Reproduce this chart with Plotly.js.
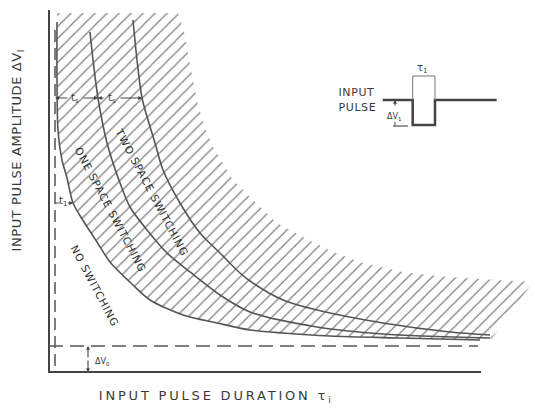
<!DOCTYPE html>
<html><head><meta charset="utf-8">
<script src="https://cdn.plot.ly/plotly-3.0.1.min.js"></script>
<style>html,body{margin:0;padding:0;background:#fff}#chart{width:535px;height:415px}</style>
</head><body><div id="chart"></div>
<script>
// ---- data (tau = pulse duration, amp = pulse amplitude; arbitrary units) ----
const curve1Tau = [0.185,0.185,0.208,0.301,0.417,0.556,0.810,1.111,1.412,1.944,2.338,3.102,3.889,4.653,5.417,6.505,8.125,9.977];
const curve1Amp = [9.722,8.111,6.722,5.889,5.389,4.694,4.167,3.611,3.056,2.417,2.000,1.583,1.361,1.167,1.083,1.000,0.944,0.889];
const curve2Tau = [0.949,1.019,1.134,1.343,1.644,1.875,2.269,2.731,3.264,3.958,4.653,6.204,7.731,10.208];
const curve2Amp = [9.444,8.667,7.611,6.361,5.250,4.583,3.944,3.306,2.778,2.139,1.667,1.250,1.056,0.944];
const curve3Tau = [1.944,2.037,2.153,2.292,2.454,2.639,3.032,3.495,3.958,4.421,4.653,5.417,6.204,7.731,9.282,10.208];
const curve3Amp = [9.778,8.667,7.611,7.000,6.361,5.611,4.694,3.861,3.306,2.750,2.528,2.000,1.722,1.361,1.111,1.028];
const hatchEdgeTau = [0.185,2.986,3.148,3.264,3.449,3.611,3.796,4.028,4.259,4.722,5.278,5.880,6.574,7.269,8.194,9.213,10.278,11.204,10.25];
const hatchEdgeAmp = [9.972,9.972,9.361,8.528,7.417,6.778,6.250,5.806,5.333,4.778,4.139,3.750,3.333,3.028,2.778,2.639,2.556,2.500,0.93];
const axisTau = [0, 0, 10.0];
const axisAmp = [10.056, 0, 0];
const thresholdTau = 0.139;   // vertical asymptote
const thresholdAmp = 0.722;   // horizontal asymptote (ΔV0)
const tauMax = 9.93, ampTop = 9.5;
const tsLevel = 7.611, t1Level = 4.694;
const pulseTau = [7.725,8.419,8.419,8.935,8.935,10.363];
const pulseAmp = [7.556,7.556,6.861,6.861,7.556,7.556];
const bracketTau = [8.419,8.419,8.935,8.935];
const bracketAmp = [7.556,8.222,8.222,7.556];
const regionLabels = ["NO SWITCHING","ONE SPACE SWITCHING","TWO SPACE SWITCHING"];
const regionTau = [1.065,1.435,2.384];
const regionAmp = [2.389,4.500,5.000];

// ---- build ----
const hatchPolyX = hatchEdgeTau.concat(curve1Tau.slice().reverse());
const hatchPolyY = hatchEdgeAmp.concat(curve1Amp.slice().reverse());
const ink = '#3a3a3a', curveInk = '#555';

const traces = [
  {x: hatchPolyX, y: hatchPolyY, mode:'lines', fill:'toself', line:{width:0, color:'rgba(0,0,0,0)'},
   fillcolor:'rgba(255,255,255,0)',
   fillpattern:{shape:'/', size:8.5, solidity:0.15, fgcolor:'#808080', bgcolor:'rgba(255,255,255,0)'}, hoverinfo:'skip'},
  {x: curve1Tau, y: curve1Amp, mode:'lines', line:{color:curveInk, width:1.6, shape:'spline', smoothing:0.8}},
  {x: curve2Tau, y: curve2Amp, mode:'lines', line:{color:curveInk, width:1.6, shape:'spline', smoothing:0.8}},
  {x: curve3Tau, y: curve3Amp, mode:'lines', line:{color:curveInk, width:1.6, shape:'spline', smoothing:0.8}},
  {x: axisTau, y: axisAmp, mode:'lines', line:{color:'#444', width:2}},
  {x: [thresholdTau, thresholdTau], y: [ampTop, 0], mode:'lines', line:{color:'#555', width:1.5, dash:'12px,6px'}},
  {x: [0, tauMax], y: [thresholdAmp, thresholdAmp], mode:'lines', line:{color:'#555', width:1.5, dash:'14px,7px'}},
  {x: pulseTau, y: pulseAmp, mode:'lines', line:{color:'#444', width:2.5}},
  {x: bracketTau, y: bracketAmp, mode:'lines', line:{color:'#777', width:1}},
  {x: [7.963, 8.31], y: [6.833, 6.833], mode:'lines', line:{color:'#555', width:1.2}},
  {x: [8.009, 8.009], y: [6.833, 6.95], mode:'lines', line:{color:'#555', width:1}},
  {x: [thresholdTau, 0.25], y: [t1Level, t1Level], mode:'lines', line:{color:'#444', width:1}}
];

function arrow(hx, hy, tx, ty){
  return {x:hx, y:hy, ax:tx, ay:ty, axref:'x', ayref:'y', xref:'x', yref:'y', text:'', showarrow:true,
          arrowhead:2, arrowsize:0.7, arrowwidth:1.1, arrowcolor:'#444'};
}
function label(txt, x, y, size, opts){
  return Object.assign({x:x, y:y, xref:'x', yref:'y', text:txt, showarrow:false,
          font:{family:'DejaVu Sans', size:size, color:ink}}, opts||{});
}

const annotations = [
  arrow(thresholdTau, tsLevel, 0.46, tsLevel), arrow(1.134, tsLevel, 0.76, tsLevel),
  arrow(1.134, tsLevel, 1.30, tsLevel), arrow(2.153, tsLevel, 1.62, tsLevel),
  label('t<sub>s</sub>', 0.602, tsLevel, 10), label('t<sub>s</sub>', 1.458, tsLevel, 10),
  arrow(0.556, t1Level, 0.40, t1Level), label('t<sub>1</sub>', 0.315, t1Level + 0.04, 10),
  arrow(0.903, thresholdAmp, 0.903, 0.36), arrow(0.903, 0, 0.903, 0.36),
  label('ΔV<sub>0</sub>', 1.227, 0.278, 8),
  arrow(8.009, 7.556, 8.009, 7.36),
  label('ΔV<sub>1</sub>', 8.009, 7.083, 8),
  label('τ<sub>1</sub>', 8.657, 8.417, 10),
  label('INPUT', 6.69, 7.764, 11, {xanchor:'left'}),
  label('PULSE', 6.69, 7.347, 11, {xanchor:'left'}),
  label('INPUT PULSE AMPLITUDE ΔV<sub>I</sub>', -0.718, 6.167, 13, {textangle:-90}),
  label('INPUT PULSE DURATION τ<sub>i</sub>', 3.866, -0.694, 13)
];
regionLabels.forEach((t, i) => annotations.push(
  label(t, regionTau[i], regionAmp[i], 10, {textangle:62, font:{family:'DejaVu Sans', size:10.5, color:'#2e2e2e'}})
));

const layout = {
  width:535, height:415, margin:{l:0,r:0,t:0,b:0}, showlegend:false,
  paper_bgcolor:'#fff', plot_bgcolor:'#fff',
  xaxis:{range:[-1.1343, 11.25], visible:false, fixedrange:true},
  yaxis:{range:[-1.1944, 10.3333], visible:false, fixedrange:true},
  annotations: annotations
};

Plotly.newPlot('chart', traces, layout, {staticPlot:true, displayModeBar:false}).then(() => {
  const spacing = {'INPUT PULSE AMPLITUDE':'0.6px', 'INPUT PULSE DURATION':'2.8px', 'SWITCHING':'0.9px', 'INPUT':'0.6px', 'PULSE':'0.6px'};
  document.querySelectorAll('.annotation-text').forEach(el => {
    const t = el.textContent;
    for (const k of Object.keys(spacing)) { if (t.indexOf(k) >= 0) { el.style.letterSpacing = spacing[k]; break; } }
  });
});
</script></body></html>
